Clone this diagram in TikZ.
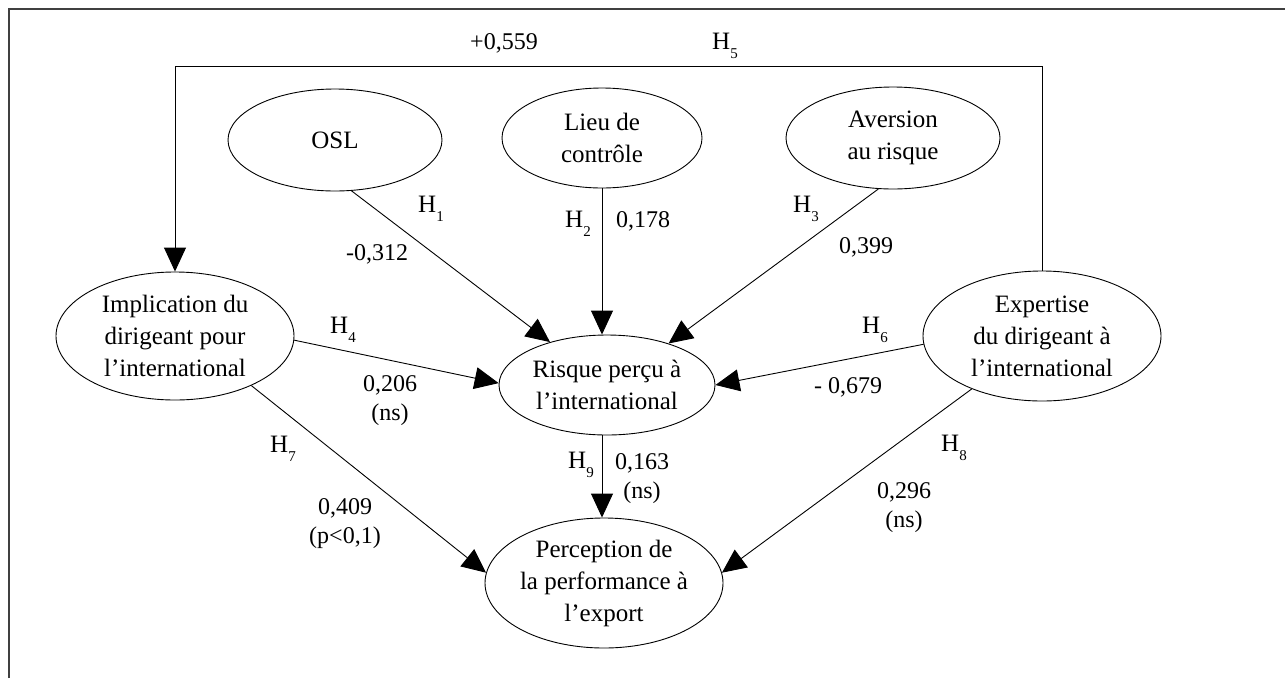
\documentclass[tikz,border=0pt]{standalone}
\usepackage{fontspec}
\setmainfont{Liberation Serif}
\usetikzlibrary{arrows.meta,shapes.geometric}
\newcommand{\Hsub}[1]{H\raisebox{-9pt}{\fontsize{15}{15}\selectfont #1}}
\begin{document}
\begin{tikzpicture}[x=1pt,y=-1pt,
  latent/.style={draw, ellipse, line width=0.9pt, inner sep=0pt, align=center,
    font=\fontsize{25}{32}\selectfont},
  hyp/.style={line width=0.9pt, -{Triangle[length=24pt,width=22pt]}},
  lab/.style={inner sep=0pt, align=center, font=\fontsize{24}{29}\selectfont},
  hlab/.style={inner sep=0pt, anchor=base west, font=\fontsize{25}{30}\selectfont},
  frame/.style={draw=black!75, line width=1.5pt}]
\useasboundingbox (0,0) rectangle (1285,678);
\draw[frame] (9,678) -- (9,9) -- (1285,9);

% latent variables
\node[latent, minimum width=214pt, minimum height=102pt] (osl) at (335,140) {OSL};
\node[latent, minimum width=200pt, minimum height=100pt] (lieu) at (602,138) {Lieu de\\contrôle};
\node[latent, minimum width=214pt, minimum height=102pt] (aver) at (893,138) {Aversion\\au risque};
\node[latent, minimum width=238pt, minimum height=128pt] (impl) at (175,336) {Implication du\\dirigeant pour\\l’international};
\node[latent, minimum width=216pt, minimum height=100pt] (risk) at (607,385) {Risque perçu à\\l’international};
\node[latent, minimum width=238pt, minimum height=130pt] (expe) at (1042,336) {Expertise\\du dirigeant à\\l’international};
\node[latent, minimum width=238pt, minimum height=130pt] (perf) at (604,583) {Perception de\\la performance à\\l’export};

% H5 loop
\coordinate (top) at (0,66);
\draw[hyp] (expe.north) -- (expe.north |- top) -- (impl.north |- top) -- (impl.north);

% paths
\draw[hyp] (osl.-72) -- (risk.143.5);
\draw[hyp] (lieu.south) -- (lieu.south |- risk.north);
\draw[hyp] (aver.-106.4) -- (risk.34.5);
\draw[hyp] (impl.-2.4) -- (risk.179);
\draw[hyp] (expe.-176.6) -- (risk.0);
\draw[hyp] (impl.-33) -- (perf.175);
\draw[hyp] (risk.south -| lieu.south) -- (perf.north -| lieu.south);
\draw[hyp] (expe.-143.6) -- (perf.5.2);

% labels
\node[lab, anchor=base] (l5) at (504,49) {+0,559};
\node[hlab] (h5) at (712,49) {\Hsub{5}};
\node[hlab] (h1) at (418,212) {\Hsub{1}};
\node[lab, anchor=base] (l1) at (377,260) {-0,312};
\node[hlab] (h2) at (565,227) {\Hsub{2}};
\node[lab, anchor=base] (l2) at (643,227) {0,178};
\node[hlab] (h3) at (793,212) {\Hsub{3}};
\node[lab, anchor=base] (l3) at (866,253) {0,399};
\node[hlab] (h4) at (330,333) {\Hsub{4}};
\node[lab, anchor=base] (l4) at (390,420) {0,206\\(ns)};
\node[hlab] (h6) at (862,333) {\Hsub{6}};
\node[lab, anchor=base] (l6) at (848,393) {- 0,679};
\node[hlab] (h7) at (270,452) {\Hsub{7}};
\node[lab, anchor=base] (l7) at (345,543) {0,409\\(p<0,1)};
\node[hlab] (h9) at (568,468) {\Hsub{9}};
\node[lab, anchor=base] (l9) at (642,498) {0,163\\(ns)};
\node[hlab] (h8) at (941,451) {\Hsub{8}};
\node[lab, anchor=base] (l8) at (904,527) {0,296\\(ns)};
\end{tikzpicture}
\end{document}
